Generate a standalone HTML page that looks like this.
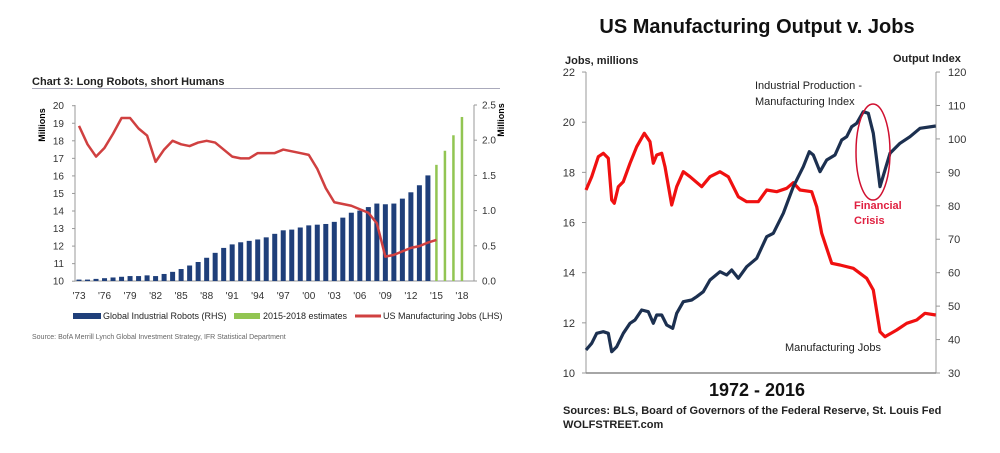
<!DOCTYPE html>
<html><head><meta charset="utf-8"><style>
body{margin:0;background:#fff;width:1000px;height:448px;overflow:hidden}
svg text{font-family:"Liberation Sans",sans-serif}
</style></head><body>
<svg id="s" width="1000" height="448" viewBox="0 0 1000 448" xmlns="http://www.w3.org/2000/svg">
<text x="32" y="85" font-size="11" font-weight="bold" fill="#222">Chart 3: Long Robots, short Humans</text>
<line x1="32" y1="88.5" x2="500" y2="88.5" stroke="#aab" stroke-width="1"/>
<text transform="translate(45,125) rotate(-90)" font-size="9" font-weight="bold" text-anchor="middle">Millions</text>
<text transform="translate(504,120) rotate(-90)" font-size="9" font-weight="bold" text-anchor="middle">Millions</text>
<g id="L"></g>
<rect x="73" y="313" width="28" height="6" fill="#1f3f7a"/>
<text x="103" y="319" font-size="9" fill="#222">Global Industrial Robots (RHS)</text>
<rect x="234" y="313" width="26" height="6" fill="#92c552"/>
<text x="263" y="319" font-size="9" fill="#222">2015-2018 estimates</text>
<line x1="355" y1="316" x2="381" y2="316" stroke="#d04040" stroke-width="3"/>
<text x="383" y="319" font-size="9" fill="#222">US Manufacturing Jobs (LHS)</text>
<text x="32" y="339" font-size="7" fill="#666">Source: BofA Merrill Lynch Global Investment Strategy, IFR Statistical Department</text>

<text x="757" y="33" font-size="20" font-weight="bold" text-anchor="middle" fill="#111">US Manufacturing Output v. Jobs</text>
<text x="565" y="64" font-size="11" font-weight="bold" fill="#222">Jobs, millions</text>
<text x="893" y="62" font-size="11" font-weight="bold" fill="#222">Output Index</text>
<text x="757" y="396" font-size="18" font-weight="bold" text-anchor="middle" fill="#111">1972  -  2016</text>
<text x="563" y="414" font-size="11" font-weight="bold" fill="#222">Sources: BLS, Board of Governors of the Federal Reserve, St. Louis Fed</text>
<text x="563" y="428" font-size="11" font-weight="bold" fill="#222">WOLFSTREET.com</text>
<g id="R"></g>
</svg>
<script>
var NS="http://www.w3.org/2000/svg";
function el(p,t,a,txt){var e=document.createElementNS(NS,t);for(var k in a)e.setAttribute(k,a[k]);if(txt!=null)e.textContent=txt;document.getElementById(p).appendChild(e);return e;}
var x=function(y){return 79+(y-1973)*8.51};
el("L","line",{x1:75,y1:105,x2:75,y2:281,stroke:"#999"});
el("L","line",{x1:474,y1:105,x2:474,y2:281,stroke:"#999"});
el("L","line",{x1:75,y1:281,x2:474,y2:281,stroke:"#999"});
for(var i=10;i<=20;i++){var yy=105.7+(20-i)*17.55;el("L","text",{x:64,y:yy+3.5,"font-size":10,"text-anchor":"end",fill:"#333"},i);el("L","line",{x1:72,y1:yy,x2:75,y2:yy,stroke:"#999"});}
for(var i=0;i<=5;i++){var yy=281-i*0.5*70.4;el("L","text",{x:482,y:yy+3.5,"font-size":10,fill:"#333"},(i*0.5).toFixed(1));el("L","line",{x1:474,y1:yy,x2:477,y2:yy,stroke:"#999"});}
for(var y=1973;y<=2018;y+=3){el("L","text",{x:x(y),y:299,"font-size":10,"text-anchor":"middle",fill:"#333"},"'"+String(y).slice(2));}
var rb=[0.02,0.02,0.03,0.04,0.05,0.06,0.07,0.07,0.08,0.07,0.1,0.13,0.17,0.22,0.27,0.33,0.4,0.47,0.52,0.55,0.57,0.59,0.62,0.67,0.72,0.73,0.76,0.79,0.8,0.81,0.84,0.9,0.97,1.0,1.05,1.1,1.09,1.1,1.17,1.26,1.36,1.5,1.65,1.85,2.07,2.33];
rb.forEach(function(v,i){var y=1973+i,g=y>=2015;var w=g?2.5:5;el("L","rect",{x:x(y)-w/2,y:281-v*70.4,width:w,height:v*70.4,fill:g?"#92c552":"#1f3f7a"});});
var jb=[18.85,17.8,17.1,17.6,18.4,19.3,19.3,18.7,18.3,16.8,17.5,18.0,17.8,17.7,17.9,18.0,17.9,17.5,17.1,17.0,17.0,17.3,17.3,17.3,17.5,17.4,17.3,17.2,16.4,15.3,14.5,14.4,14.3,14.1,13.9,13.3,11.4,11.5,11.7,11.9,12.0,12.2,12.35];
el("L","polyline",{points:jb.map(function(v,i){return x(1973+i)+","+(105.7+(20-v)*17.55)}).join(" "),fill:"none",stroke:"#d04040","stroke-width":2.5,"stroke-linejoin":"round"});
el("R","line",{x1:586,y1:72,x2:586,y2:373,stroke:"#999"});
el("R","line",{x1:936,y1:72,x2:936,y2:373,stroke:"#999"});
el("R","line",{x1:586,y1:373,x2:936,y2:373,stroke:"#888",'stroke-width':1.5});
for(var v=10;v<=22;v+=2){var yy=373-(v-10)*25.08;el("R","text",{x:575,y:yy+4,"font-size":11,"text-anchor":"end",fill:"#333"},v);el("R","line",{x1:582,y1:yy,x2:586,y2:yy,stroke:"#999"});}
for(var v=30;v<=120;v+=10){var yy=373-(v-30)*3.344;el("R","text",{x:948,y:yy+4,"font-size":11,fill:"#333"},v);el("R","line",{x1:936,y1:yy,x2:940,y2:yy,stroke:"#999"});}
var red=[[198,570],[215,530],[235,470],[250,460],[265,475],[275,600],[283,610],[295,560],[310,545],[330,490],[350,440],[373,400],[390,425],[400,490],[410,465],[425,460],[435,500],[455,615],[470,560],[490,515],[510,530],[545,560],[570,530],[600,515],[625,530],[655,590],[680,605],[715,605],[740,570],[770,575],[800,565],[820,548],[840,570],[875,575],[890,620],[905,700],[935,790],[960,795],[1000,805],[1040,835],[1060,870],[1080,995],[1095,1010],[1130,990],[1160,970],[1190,960],[1215,940],[1247,945]];
var blue=[[198,1050],[215,1030],[230,1000],[250,995],[265,1000],[275,1055],[290,1040],[310,1000],[330,970],[345,960],[365,930],[385,935],[400,970],[410,945],[425,945],[440,975],[458,985],[470,940],[490,905],[515,900],[530,890],[550,875],[570,840],[600,815],[620,825],[635,810],[655,835],[680,800],[710,775],[740,710],[760,700],[790,640],[820,560],[850,500],[868,455],[880,465],[900,515],[920,480],[945,465],[965,420],[980,410],[995,380],[1010,370],[1030,335],[1045,340],[1060,400],[1070,480],[1080,560],[1095,510],[1110,460],[1140,430],[1170,410],[1200,385],[1247,378]];
function pts(a){return a.map(function(p){return (520+p[0]/3).toFixed(1)+","+(p[1]/3).toFixed(1)}).join(" ")}
el("R","polyline",{points:pts(red),fill:"none",stroke:"#f01010","stroke-width":3.2,"stroke-linejoin":"round"});
el("R","polyline",{points:pts(blue),fill:"none",stroke:"#1c3050","stroke-width":3.2,"stroke-linejoin":"round"});
el("R","ellipse",{cx:873,cy:152,rx:17,ry:48,fill:"none",stroke:"#d01030","stroke-width":1.5});
el("R","text",{x:755,y:89,"font-size":11,fill:"#222"},"Industrial Production -");
el("R","text",{x:755,y:105,"font-size":11,fill:"#222"},"Manufacturing Index");
el("R","text",{x:854,y:209,"font-size":11,"font-weight":"bold",fill:"#e02040"},"Financial");
el("R","text",{x:854,y:224,"font-size":11,"font-weight":"bold",fill:"#e02040"},"Crisis");
el("R","text",{x:785,y:351,"font-size":11,fill:"#222"},"Manufacturing Jobs");
</script>
</body></html>
